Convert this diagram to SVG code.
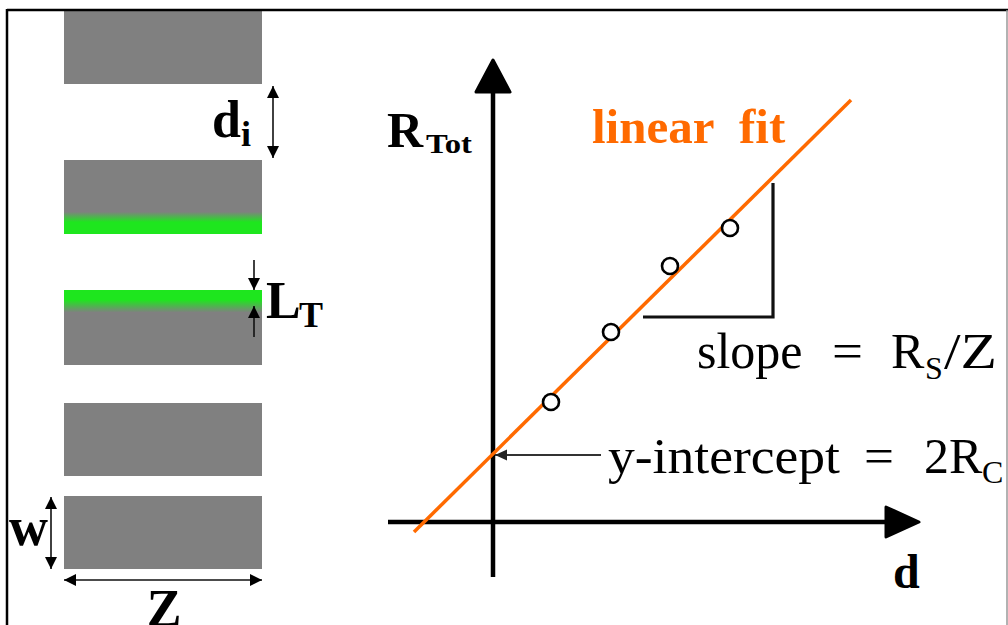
<svg xmlns="http://www.w3.org/2000/svg" width="1008" height="625" viewBox="0 0 1008 625">
<defs>
<style>
.bar{fill:#808080}
.lbl{font-family:"Liberation Serif","Times New Roman",serif;fill:#000}
.b{font-weight:bold}
.or{fill:#ff6a00}
.dim{stroke:#111;stroke-width:1.6;fill:none}
.axis{stroke:#000;stroke-width:4.5;fill:none}
.pt{fill:#fff;stroke:#000;stroke-width:2.6}
</style>
<linearGradient id="gDown" x1="0" y1="0" x2="0" y2="1">
<stop offset="0" stop-color="#808080"/>
<stop offset="0.70" stop-color="#808080"/>
<stop offset="0.84" stop-color="#1ee61e"/>
<stop offset="1" stop-color="#1ee61e"/>
</linearGradient>
<linearGradient id="gUp" x1="0" y1="0" x2="0" y2="1">
<stop offset="0" stop-color="#1ee61e"/>
<stop offset="0.13" stop-color="#1ee61e"/>
<stop offset="0.30" stop-color="#808080"/>
<stop offset="1" stop-color="#808080"/>
</linearGradient>
<marker id="ah" markerUnits="userSpaceOnUse" viewBox="0 0 12 12" refX="12" refY="6" markerWidth="12" markerHeight="12" orient="auto-start-reverse">
<path d="M0,0 L12,6 L0,12 Z" fill="#000"/>
</marker>
<marker id="ahg" markerUnits="userSpaceOnUse" viewBox="0 0 12 12" refX="12" refY="6" markerWidth="12" markerHeight="12" orient="auto">
<path d="M0,0.5 L12,6 L0,11.5 Z" fill="#222"/>
</marker>
</defs>
<rect width="1008" height="625" fill="#fff"/>
<g id="bar1"><rect class="bar" x="64" y="11" width="198" height="73"/></g>
<g id="bar2"><rect x="64" y="160" width="198" height="74" fill="url(#gDown)"/></g>
<g id="bar3"><rect x="64" y="290" width="198" height="75" fill="url(#gUp)"/></g>
<g id="bar4"><rect class="bar" x="64" y="403" width="198" height="73"/></g>
<g id="bar5"><rect class="bar" x="64" y="496" width="198" height="73"/></g>
<g id="label-di">
<text class="lbl b" x="212" y="137" font-size="52">d</text>
<text class="lbl b" x="241" y="146" font-size="36">i</text>
</g>
<g id="label-LT">
<text class="lbl b" x="266" y="318" font-size="52">L</text>
<text class="lbl b" x="299" y="327" font-size="36">T</text>
</g>
<g id="label-w"><text class="lbl b" x="9" y="545" font-size="54">w</text></g>
<g id="label-Z"><text class="lbl b" x="164" y="626" font-size="52" text-anchor="middle">Z</text></g>
<g id="y-axis">
<line class="axis" x1="493" y1="88" x2="493" y2="577"/>
<path d="M493,60 L510,92 L476,92 Z" fill="#000" stroke="#000" stroke-width="3" stroke-linejoin="round"/>
</g>
<g id="x-axis">
<line class="axis" x1="388" y1="522" x2="890" y2="522"/>
<path d="M919,522 L886,507 L886,537 Z" fill="#000" stroke="#000" stroke-width="3" stroke-linejoin="round"/>
</g>
<g id="label-RTot">
<text class="lbl b" x="387" y="147" font-size="50">R</text>
<text class="lbl b" x="426" y="153" font-size="28" textLength="46" lengthAdjust="spacingAndGlyphs">Tot</text>
</g>
<g id="label-d"><text class="lbl b" x="893" y="588" font-size="48">d</text></g>
<g id="fit-line">
<line x1="414" y1="532" x2="851" y2="100" stroke="#ff6a00" stroke-width="3.5"/>
</g>
<g id="label-linear-fit">
<text class="lbl b or" x="592" y="143" font-size="49">linear</text>
<text class="lbl b or" x="739" y="143" font-size="49">fit</text>
</g>
<g id="points">
<circle class="pt" cx="551" cy="402" r="8"/>
<circle class="pt" cx="611" cy="332" r="8"/>
<circle class="pt" cx="670" cy="266" r="8"/>
<circle class="pt" cx="730" cy="228" r="8"/>
</g>
<g id="slope-triangle">
<polyline points="643,317 773,317 773,183" fill="none" stroke="#111" stroke-width="3.2"/>
</g>
<g id="label-slope">
<text class="lbl" x="697" y="368" font-size="50">slope</text>
<text class="lbl" x="832" y="368" font-size="50" textLength="31" lengthAdjust="spacingAndGlyphs">=</text>
<text class="lbl" x="891" y="368" font-size="50">R</text>
<text class="lbl" x="925" y="379" font-size="32">S</text>
<text class="lbl" x="944" y="368" font-size="50" textLength="53" lengthAdjust="spacingAndGlyphs">/Z</text>
</g>
<g id="label-intercept">
<text class="lbl" x="608" y="473" font-size="50" textLength="232" lengthAdjust="spacingAndGlyphs">y-intercept</text>
<text class="lbl" x="864" y="473" font-size="50" textLength="30" lengthAdjust="spacingAndGlyphs">=</text>
<text class="lbl" x="924" y="473" font-size="50">2R</text>
<text class="lbl" x="982" y="483" font-size="32">C</text>
</g>
<g id="connectors">
<line class="dim" x1="273" y1="86" x2="273" y2="158" marker-start="url(#ah)" marker-end="url(#ah)"/>
<line class="dim" x1="254" y1="260" x2="254" y2="290" marker-end="url(#ah)"/>
<line class="dim" x1="254" y1="337" x2="254" y2="306" marker-end="url(#ah)"/>
<line class="dim" x1="51" y1="497" x2="51" y2="569" marker-start="url(#ah)" marker-end="url(#ah)"/>
<line class="dim" x1="64" y1="580" x2="262" y2="580" marker-start="url(#ah)" marker-end="url(#ah)"/>
<line x1="601" y1="455" x2="495" y2="455" stroke="#333" stroke-width="2" marker-end="url(#ahg)"/>
</g>
<g id="frame">
<line x1="7" y1="10" x2="1008" y2="10" stroke="#000" stroke-width="2.5"/>
<line x1="7" y1="9" x2="7" y2="625" stroke="#000" stroke-width="2.5"/>
<line x1="1007" y1="10" x2="1007" y2="625" stroke="#999" stroke-width="1.5"/>
</g>
</svg>
